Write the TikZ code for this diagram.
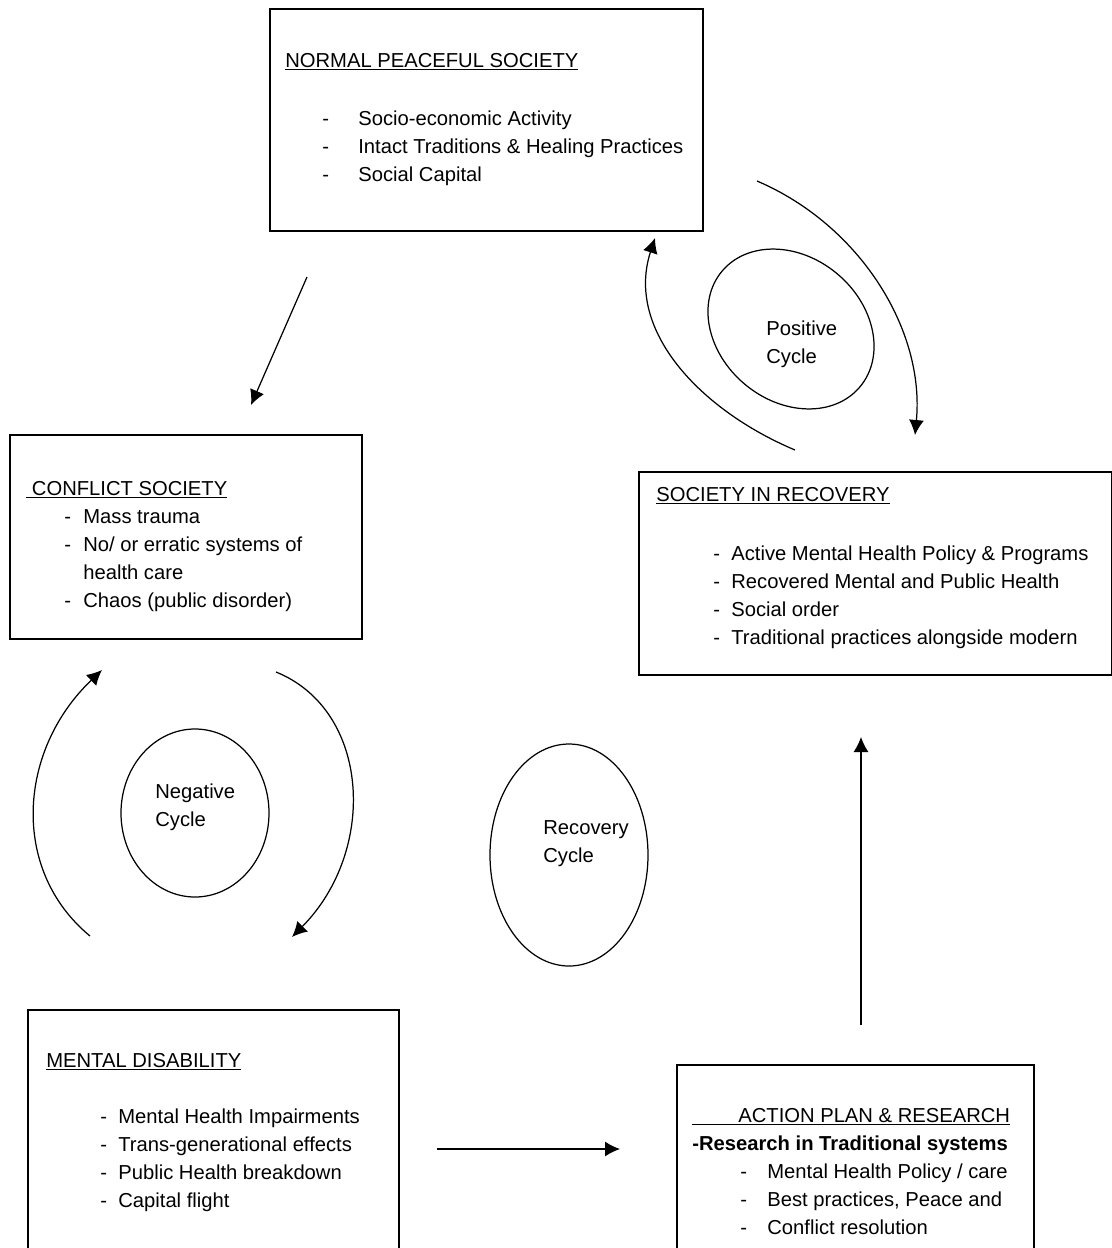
\documentclass[tikz,border=0pt]{standalone}
\usepackage{fontspec}
\setmainfont{Liberation Sans}
\usetikzlibrary{arrows.meta,shapes.geometric}
\newcommand{\pxu}{0.02cm}
\tikzset{
  stagebox/.style={draw,line width=1pt,anchor=north west,inner sep=0pt},
  heading/.style={anchor=base west,inner sep=0pt},
  dashmark/.style={anchor=base west,inner sep=0pt},
  itemtext/.style={anchor=base west,inner sep=0pt},
  ring/.style={ellipse,draw,line width=0.7pt,inner sep=0pt},
  ringlabel/.style={anchor=west,align=left,inner sep=0pt},
  flow/.style={-{Latex[length=0.3cm,width=0.3cm]},line width=0.7pt}
}

\begin{document}
\begin{tikzpicture}[x=0.02cm,y=-0.02cm,font=\fontsize{11.5}{15.9}\selectfont]
      \useasboundingbox (0,0) rectangle (1112,1248);

      \node[stagebox,minimum width=433*\pxu,minimum height=222*\pxu] (peace) at (269,8) {};
      \node[stagebox,minimum width=352*\pxu,minimum height=204*\pxu] (conflict) at (9,434) {};
      \node[stagebox,minimum width=473*\pxu,minimum height=203*\pxu] (recovery) at (638,471) {};
      \node[stagebox,minimum width=371*\pxu,minimum height=262*\pxu] (disability) at (27,1009) {};
      \node[stagebox,minimum width=357*\pxu,minimum height=210*\pxu] (action) at (676,1064) {};

      \node[heading] (peace-title) at (285,67) {\underline{NORMAL PEACEFUL SOCIETY}};
      \foreach \t [count=\i] in {Socio-economic Activity,
          Intact Traditions \& Healing Practices, Social Capital} {
        \node[dashmark] (peace-d\i) at (322,{125+28*(\i-1)}) {-};
        \node[itemtext] (peace-\i) at (358,{125+28*(\i-1)}) {\t};
      }

      \node[heading] (conflict-title) at (26,495) {\underline{\ CONFLICT SOCIETY}};
      \node[dashmark] (conflict-d1) at (64,523) {-};
      \node[itemtext] (conflict-1) at (83,523) {Mass trauma};
      \node[dashmark] (conflict-d2) at (64,551) {-};
      \node[itemtext] (conflict-2) at (83,551) {No/ or erratic systems of};
      \node[itemtext] (conflict-2b) at (83,579) {health care};
      \node[dashmark] (conflict-d3) at (64,607) {-};
      \node[itemtext] (conflict-3) at (83,607) {Chaos (public disorder)};

      \node[heading] (recovery-title) at (656,501) {\underline{SOCIETY IN RECOVERY}};
      \foreach \t [count=\i] in {Active Mental Health Policy \& Programs,
          Recovered Mental and Public Health, Social order,
          Traditional practices alongside modern} {
        \node[dashmark] (recovery-d\i) at (713,{560+28*(\i-1)}) {-};
        \node[itemtext] (recovery-\i) at (731,{560+28*(\i-1)}) {\t};
      }

      \node[heading] (disability-title) at (46,1067) {\underline{MENTAL DISABILITY}};
      \foreach \t [count=\i] in {Mental Health Impairments,
          Trans-generational effects, Public Health breakdown, Capital flight} {
        \node[dashmark] (disability-d\i) at (100,{1123+28*(\i-1)}) {-};
        \node[itemtext] (disability-\i) at (118,{1123+28*(\i-1)}) {\t};
      }

      \node[heading] (action-title) at (692,1122)
        {\underline{\hspace{0.92cm}ACTION PLAN \& RESEARCH}};
      \node[heading] (action-sub) at (692,1150)
        {\bfseries -Research in Traditional systems};
      \foreach \t [count=\i] in {Mental Health Policy / care,
          {Best practices, Peace and}, Conflict resolution} {
        \node[dashmark] (action-d\i) at (740,{1178+28*(\i-1)}) {-};
        \node[itemtext] (action-\i) at (767,{1178+28*(\i-1)}) {\t};
      }

      \node[ring,minimum width=180*\pxu,minimum height=144*\pxu,rotate=-40] (posring) at (791,329) {};
      \node[ring,minimum width=148*\pxu,minimum height=168*\pxu] (negring) at (195,813) {};
      \node[ring,minimum width=158*\pxu,minimum height=222*\pxu] (recring) at (569,855) {};
      \node[ringlabel] (poslabel) at (766,344) {Positive\\Cycle};
      \node[ringlabel] (neglabel) at (155,807) {Negative\\Cycle};
      \node[ringlabel] (reclabel) at (543,844) {Recovery\\Cycle};

      \coordinate (peace-out) at (307,277);
      \coordinate (conflict-in) at (251,405);
      \coordinate (peace-back) at (757,181);
      \coordinate (recovery-in) at (915,435);
      \coordinate (recovery-back) at (795,450);
      \coordinate (peace-in) at (655,238);
      \coordinate (conflict-out) at (276,672);
      \coordinate (disability-in) at (292,937);
      \coordinate (disability-back) at (90,936);
      \coordinate (conflict-back) at (102,670);
      \coordinate (disability-out) at (437,1149);
      \coordinate (action-in) at (620,1149);
      \coordinate (action-out) at (861,1025);
      \coordinate (recovery-up) at (861,737);

      \draw[flow] (peace-out) -- (conflict-in);
      \draw[flow] (peace-back) .. controls (860,225) and (925,330) .. (recovery-in);
      \draw[flow] (recovery-back) .. controls (700,410) and (625,330) .. (peace-in);
      \draw[flow] (conflict-out) .. controls (370,710) and (378,850) .. (disability-in);
      \draw[flow] (disability-back) .. controls (10,870) and (18,750) .. (conflict-back);
      \draw[flow] (disability-out) -- (action-in);
      \draw[flow] (action-out) -- (recovery-up);
    \end{tikzpicture}
\end{document}
